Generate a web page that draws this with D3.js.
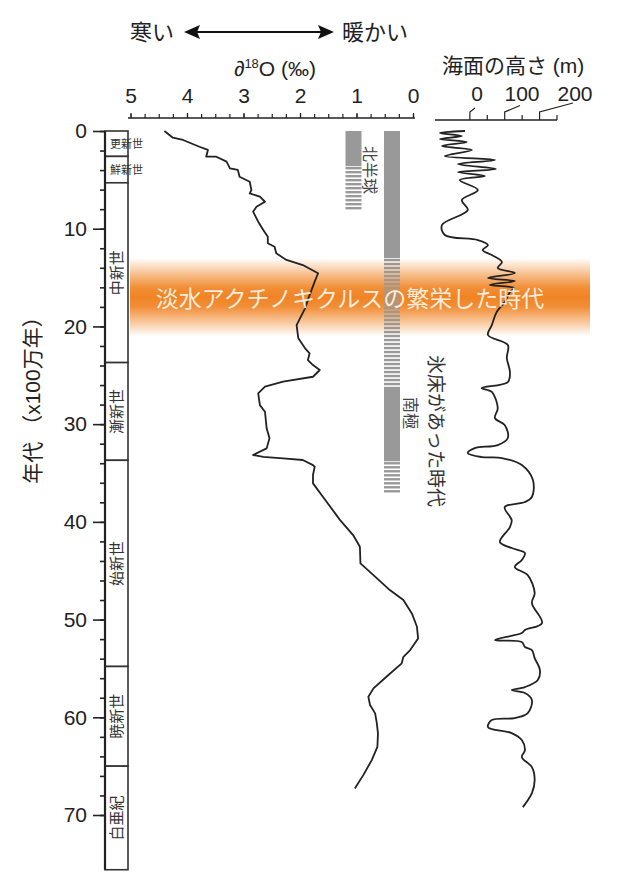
<!DOCTYPE html>
<html lang="ja">
<head>
<meta charset="utf-8">
<script src="https://cdn.jsdelivr.net/npm/d3@7"></script>
<style>
  body { margin: 0; background: #fff; }
  svg text { font-family: "Liberation Sans", "Noto Sans CJK JP", sans-serif; fill: #222; }
</style>
</head>
<body>
<svg id="chart" width="640" height="880"></svg>
<script>
// age axis (x100万年)
const ageTicks = [0, 10, 20, 30, 40, 50, 60, 70];
const o18Ticks = [5, 4, 3, 2, 1, 0];
const seaTicks = [0, 100, 200];

// geological epochs
const epochNames = ["更新世", "鮮新世", "中新世", "漸新世", "始新世", "暁新世", "白亜紀"];
const epochStarts = [0, 2.6, 5.3, 23.7, 33.7, 54.8, 65.0];
const epochEnd = 75.6;

// δ18O record
const o18Age = [0, 0.69, 0.92, 1.61, 1.94, 2.63, 2.63, 3.14, 3.82, 3.99, 4.68, 5.19, 6.04, 6.38, 6.72, 7.24, 7.75, 8.26, 9.28, 10.13, 10.82, 11.49, 11.84, 12.52, 13.2, 13.72, 14.56, 15.42, 16.79, 18.15, 19.17, 19.86, 21.22, 22.24, 22.75, 23.44, 23.95, 24.46, 25.15, 25.66, 26.17, 26.85, 28.05, 28.73, 30.43, 31.45, 32.48, 33.16, 33.34, 33.5, 33.67, 34.19, 34.36, 35.21, 36.06, 37.94, 39.82, 41.35, 42.55, 44.25, 45.45, 46.98, 48.0, 49.37, 50.74, 51.93, 53.12, 53.81, 54.48, 55.85, 57.04, 57.9, 58.75, 59.6, 60.62, 61.65, 63.02, 64.38, 65.92, 67.28];
const o18Value = [4.40, 4.25, 4.07, 3.78, 3.63, 3.66, 3.48, 3.30, 3.24, 3.10, 3.07, 2.89, 2.86, 2.89, 2.71, 2.62, 2.77, 2.83, 2.74, 2.65, 2.57, 2.57, 2.45, 2.42, 2.24, 1.95, 1.68, 1.74, 1.83, 1.91, 2.00, 2.06, 2.03, 1.91, 1.83, 1.86, 1.77, 1.65, 1.77, 2.30, 2.62, 2.74, 2.71, 2.62, 2.59, 2.54, 2.59, 2.83, 2.65, 2.30, 1.95, 1.77, 1.74, 1.77, 1.77, 1.53, 1.29, 1.06, 0.94, 0.93, 0.70, 0.41, 0.17, 0.02, -0.07, -0.09, 0.05, 0.17, 0.20, 0.47, 0.70, 0.79, 0.76, 0.67, 0.64, 0.62, 0.63, 0.73, 0.88, 1.03];

// sea level record (m)
const seaAge = [0, 0.2, 0.51, 0.82, 1.13, 1.54, 1.94, 2.56, 2.97, 3.38, 3.89, 4.2, 4.61, 5.02, 6.04, 7.06, 8.09, 9.62, 10.64, 11.16, 11.67, 12.18, 12.69, 13.41, 14.02, 14.53, 15.05, 15.35, 15.76, 16.07, 16.48, 17.5, 18.53, 19.86, 20.88, 21.9, 23.23, 24.67, 25.69, 26.3, 26.71, 28.35, 29.38, 30.09, 31.42, 32.14, 32.45, 32.96, 33.37, 33.47, 34.19, 35.72, 37.46, 37.97, 38.49, 39.82, 40.53, 42.07, 42.68, 43.19, 43.91, 44.63, 45.45, 47.29, 48.31, 50.36, 51.07, 51.38, 52.1, 52.3, 52.81, 53.12, 53.94, 55.17, 56.19, 56.91, 57.22, 57.52, 58.24, 59.57, 60.08, 60.29, 61.0, 61.62, 62.33, 63.36, 64.07, 65.1, 66.43, 67.76, 69.19];
const seaLevel = [-14, -86, -23, -86, -9, -80, 6, -72, 72, -34, 75, -34, 43, -29, 23, -23, -6, -80, -72, 23, 52, 37, 63, 92, 80, 129, 52, 129, 57, 126, 115, 100, 77, 63, 52, 109, 106, 115, 109, 34, 63, 80, 72, 100, 109, 80, 14, -6, 34, 92, 149, 181, 178, 158, 100, 120, 115, 86, 120, 158, 149, 129, 166, 186, 178, 207, 158, 149, 72, 149, 158, 178, 186, 201, 195, 158, 120, 158, 178, 166, 129, 63, 52, 120, 149, 158, 149, 178, 186, 178, 152];

// ice sheets: [name, from, to, kind]
const iceNames = ["北半球", "南極"];
const iceSpans = [
  ["北半球", 0, 3.6, "solid"],
  ["北半球", 3.6, 7.8, "striped"],
  ["南極", 0, 13, "solid"],
  ["南極", 13, 26.2, "striped"],
  ["南極", 26.2, 33.8, "solid"],
  ["南極", 33.8, 37, "striped"]
];

const bloomSpan = [13, 21];
const bloomLabel = "淡水アクチノキクルスの繁栄した時代";

const svg = d3.select("#chart");
const ink = "#222";

const y = d3.scaleLinear().domain([0, 70]).range([131, 815]);
const xO = d3.scaleLinear().domain([5, 0]).range([130.5, 413]);
const xSea = d3.scaleLinear().domain([-100, 250]).range([435, 557]);
const seaLabelX = d3.scaleLinear().domain([0, 100, 200]).range([477, 522, 575]);
const xIce = d3.scalePoint().domain(iceNames).range([353.5, 392]);

// orange band
const defs = svg.append("defs");
const grad = defs.append("linearGradient").attr("id", "bloom")
  .attr("x1", 0).attr("x2", 0).attr("y1", 0).attr("y2", 1);
[[0, 0], [0.18, 0.45], [0.38, 0.92], [0.5, 1], [0.62, 0.92], [0.82, 0.45], [1, 0]].forEach(([o, a]) => {
  grad.append("stop").attr("offset", o).attr("stop-color", "#f08424").attr("stop-opacity", a);
});
svg.append("rect")
  .attr("x", 130).attr("width", 460)
  .attr("y", y(bloomSpan[0])).attr("height", y(bloomSpan[1]) - y(bloomSpan[0]))
  .attr("fill", "url(#bloom)");

// epoch column
const col = svg.append("g");
const colX0 = 105, colX1 = 128;
epochNames.forEach((name, i) => {
  const a0 = epochStarts[i];
  const a1 = i < epochNames.length - 1 ? epochStarts[i + 1] : epochEnd;
  col.append("rect")
    .attr("x", colX0).attr("width", colX1 - colX0)
    .attr("y", y(a0)).attr("height", y(a1) - y(a0))
    .attr("fill", "#fff").attr("stroke", "#333").attr("stroke-width", 1.6);
  const cy = (y(a0) + y(a1)) / 2;
  if (a1 - a0 < 4) {
    col.append("text").attr("x", 110).attr("y", cy)
      .attr("dominant-baseline", "central")
      .style("font-size", "11px").style("fill", "#333").text(name);
  } else {
    col.append("text")
      .attr("transform", `translate(${(colX0 + colX1) / 2},${cy}) rotate(-90)`)
      .attr("text-anchor", "middle").attr("dominant-baseline", "central")
      .style("font-size", "15px").style("fill", "#333").text(name);
  }
});
svg.append("line").attr("x1", colX0).attr("x2", colX0)
  .attr("y1", y(0)).attr("y2", y(epochEnd)).attr("stroke", "#222").attr("stroke-width", 2.2);

// age axis
const minorAge = svg.append("g").attr("transform", `translate(${colX0},0)`)
  .call(d3.axisLeft(y).tickValues(d3.range(0, 71, 2)).tickSize(5).tickFormat(""));
const majorAge = svg.append("g").attr("transform", `translate(${colX0},0)`)
  .call(d3.axisLeft(y).tickValues(ageTicks).tickSize(12).tickPadding(6));
[minorAge, majorAge].forEach(g => {
  g.select(".domain").remove();
  g.selectAll(".tick line").attr("stroke", "#222").attr("stroke-width", 1.6);
});
majorAge.selectAll("text").style("font-size", "21px").attr("fill", ink);

svg.append("text")
  .attr("transform", `translate(32,395) rotate(-90)`)
  .attr("text-anchor", "middle").attr("dominant-baseline", "central")
  .style("font-size", "21px").text("年代 （x100万年）");

// δ18O axis
const axO = 118;
svg.append("line").attr("x1", 128).attr("x2", 415).attr("y1", axO).attr("y2", axO)
  .attr("stroke", "#222").attr("stroke-width", 1.4);
const minorO = svg.append("g").attr("transform", `translate(0,${axO})`)
  .call(d3.axisTop(xO).tickValues(d3.range(0, 5.01, 0.25)).tickSize(4).tickSizeOuter(0).tickFormat(""));
const majorO = svg.append("g").attr("transform", `translate(0,${axO})`)
  .call(d3.axisTop(xO).tickValues(o18Ticks).tickSize(5).tickSizeOuter(0).tickPadding(10).tickFormat(d3.format("d")));
[minorO, majorO].forEach(g => {
  g.select(".domain").remove();
  g.selectAll(".tick line").attr("stroke", "#222").attr("stroke-width", 1.2);
});
majorO.selectAll("text").style("font-size", "21px").attr("fill", ink);

const o18Title = svg.append("text").attr("x", 275).attr("y", 76)
  .attr("text-anchor", "middle").style("font-size", "21px");
o18Title.append("tspan").text("∂");
o18Title.append("tspan").attr("dy", -8).style("font-size", "13px").text("18");
o18Title.append("tspan").attr("dy", 8).text("O (‰)");

// warm / cold arrow
svg.append("text").attr("x", 130).attr("y", 40).style("font-size", "22px").text("寒い");
svg.append("text").attr("x", 342).attr("y", 40).style("font-size", "22px").text("暖かい");
svg.append("line").attr("x1", 195).attr("x2", 323).attr("y1", 32).attr("y2", 32)
  .attr("stroke", "#111").attr("stroke-width", 2);
svg.append("path").attr("d", "M184,32 L200,25 L197,32 L200,39 Z").attr("fill", "#111");
svg.append("path").attr("d", "M334,32 L318,25 L321,32 L318,39 Z").attr("fill", "#111");

// sea level axis
const axS = 120;
svg.append("text").attr("x", 442).attr("y", 73).style("font-size", "21px").text("海面の高さ (m)");
svg.append("line").attr("x1", xSea(-100)).attr("x2", xSea(250)).attr("y1", axS).attr("y2", axS)
  .attr("stroke", "#222").attr("stroke-width", 1.4);
const seaAxis = svg.append("g");
[50, 150, 250].forEach(v => {
  seaAxis.append("line").attr("x1", xSea(v)).attr("x2", xSea(v))
    .attr("y1", axS).attr("y2", axS - 5).attr("stroke", "#222").attr("stroke-width", 1.2);
});
seaTicks.forEach(v => {
  const x0 = xSea(v), lx = seaLabelX(v);
  seaAxis.append("path")
    .attr("d", `M${x0},${axS} L${x0},${axS - 8} L${lx - 2},${axS - 12 - v / 40}`)
    .attr("fill", "none").attr("stroke", "#222").attr("stroke-width", 1.2);
  seaAxis.append("text").attr("x", lx).attr("y", 101)
    .attr("text-anchor", "middle").style("font-size", "21px").text(v);
});

// ice sheets
const ice = svg.append("g");
const iceW = 16;
iceSpans.forEach(([name, a0, a1, kind]) => {
  const x0 = xIce(name) - iceW / 2;
  if (kind === "solid") {
    ice.append("rect").attr("x", x0).attr("width", iceW)
      .attr("y", y(a0)).attr("height", y(a1) - y(a0)).attr("fill", "#999");
  } else {
    d3.range(y(a0) + 0.8, y(a1), 4).forEach(sy => {
      ice.append("rect").attr("x", x0).attr("width", iceW)
        .attr("y", sy).attr("height", 2.4).attr("fill", "#999");
    });
  }
});
svg.append("text").attr("transform", "translate(369,170) rotate(90)")
  .attr("text-anchor", "middle").attr("dominant-baseline", "central")
  .style("font-size", "16px").style("fill", "#444").text("北半球");
svg.append("text").attr("transform", "translate(410,413) rotate(90)")
  .attr("text-anchor", "middle").attr("dominant-baseline", "central")
  .style("font-size", "16px").style("fill", "#444").text("南極");
svg.append("text").attr("transform", "translate(435,431) rotate(90)")
  .attr("text-anchor", "middle").attr("dominant-baseline", "central")
  .style("font-size", "19px").style("fill", "#333").text("氷床があった時代");

// curves
const o18Line = d3.line().x(d => xO(d[1])).y(d => y(d[0]));
svg.append("path").datum(d3.zip(o18Age, o18Value))
  .attr("d", o18Line).attr("fill", "none").attr("stroke", ink)
  .attr("stroke-width", 1.8).attr("stroke-linejoin", "round");

const seaLine = d3.line().curve(d3.curveCatmullRom.alpha(0.5)).x(d => xSea(d[1])).y(d => y(d[0]));
svg.append("path").datum(d3.zip(seaAge, seaLevel))
  .attr("d", seaLine).attr("fill", "none").attr("stroke", ink)
  .attr("stroke-width", 1.8).attr("stroke-linejoin", "round");

// band label
svg.append("text")
  .attr("x", 350).attr("y", (y(bloomSpan[0]) + y(bloomSpan[1])) / 2 + 2)
  .attr("text-anchor", "middle").attr("dominant-baseline", "central")
  .style("font-size", "23px").style("fill", "#fff").style("fill-opacity", 0.85)
  .text(bloomLabel);
</script>
</body>
</html>
